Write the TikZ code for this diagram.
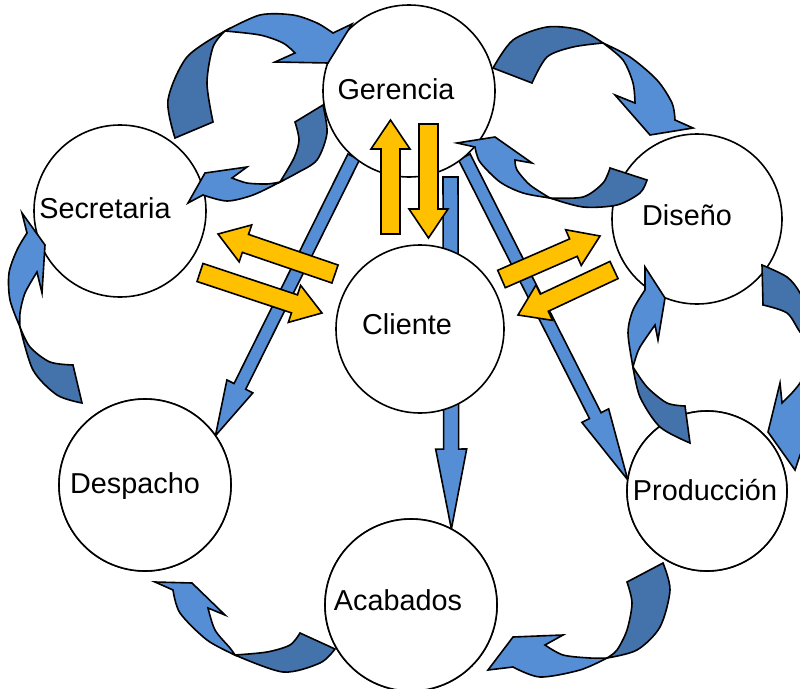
\documentclass[tikz,border=0pt]{standalone}
\usepackage{fontspec}
\setmainfont{Liberation Sans}
\usetikzlibrary{calc}
\definecolor{flowlight}{HTML}{558ED5}
\definecolor{flowdark}{HTML}{4472AA}
\definecolor{swap}{HTML}{FFC000}
\tikzset{
  unit/.style={circle, draw=black, fill=white, line width=1.6pt, inner sep=0pt, outer sep=0pt},
  lbl/.style={font=\fontsize{28.8}{30}\selectfont, anchor=base, inner sep=0pt},
  bluebar/.style={draw=black, fill=flowlight, line width=1.6pt},
  yellowbar/.style={draw=black, fill=swap, line width=1.6pt},
  bendfront/.style={draw=black, fill=flowlight, line width=1.6pt},
  bendback/.style={draw=black, fill=flowdark, line width=1.6pt},
}
% block arrow: style, from, to, half shaft width, half head width, head length
\newcommand\blockarrow[6]{%
  \coordinate (ba-h) at ($(#3)!#6!(#2)$);
  \draw[#1] ($(#2)!#4!90:(#3)$) -- ($(ba-h)!#4!90:(#3)$) -- ($(ba-h)!#5!90:(#3)$)
    -- (#3) -- ($(ba-h)!#5!-90:(#3)$) -- ($(ba-h)!#4!-90:(#3)$) -- ($(#2)!#4!-90:(#3)$) -- cycle;
}
\begin{document}
\begin{tikzpicture}[x=1pt, y=-1pt]
\useasboundingbox (0,0) rectangle (800,688);
\clip (0,0) rectangle (800,688);

% departments
\coordinate (ger-c) at (409,91);
\coordinate (aca-c) at (411,605);

% straight flows from management (behind the circles)
\coordinate (gv) at ($(ger-c)+(41.5,86)$);
\node[unit, minimum size=172pt] (aca) at (aca-c) {};
\node[unit, minimum size=172pt] (des) at (145,485) {};
\node[unit, minimum size=160pt] (pro) at (707,491) {};
\node[unit, minimum size=172pt, draw=none, fill=none] (gerx) at (ger-c) {};
\blockarrow{bluebar}{gerx.230}{des.35}{6.5pt}{14.5pt}{55pt}
\blockarrow{bluebar}{gv}{aca.62}{7.5pt}{15.5pt}{80pt}
\blockarrow{bluebar}{gerx.-50}{pro.172}{6.5pt}{15pt}{72pt}

% circles
\node[unit, minimum size=172pt] (ger) at (ger-c) {};
\node[unit, minimum size=172pt] (sec) at (120,211) {};
\node[unit, minimum size=168pt] (cli) at (420,329) {};
\node[unit, minimum size=170pt] (dis) at (697,219) {};
\node[unit, minimum size=160pt] (pro) at (707,491) {};
\node[unit, minimum size=172pt] (des) at (145,485) {};
\node[unit, minimum size=172pt] (aca) at (aca-c) {};

% labels
\node[lbl] (ger-t) at (396,99.3) {Gerencia};
\node[lbl] (sec-t) at (105,218.3) {Secretaria};
\node[lbl] (cli-t) at (407,334.3) {Cliente};
\node[lbl] (dis-t) at (687,225.3) {Diseño};
\node[lbl] (pro-t) at (705,500.3) {Producción};
\node[lbl] (des-t) at (135,493.3) {Despacho};
\node[lbl] (aca-t) at (398,610.3) {Acabados};

% two-way exchanges with the client
\coordinate (yu-a) at (390.5,234);  \coordinate (yu-b) at (390.5,120);
\coordinate (yd-a) at (428.5,124);  \coordinate (yd-b) at (428.5,238);
\coordinate (yl1-a) at (335,274);   \coordinate (yl1-b) at (218,234);
\coordinate (yl2-a) at (200,272.5); \coordinate (yl2-b) at (322,313);
\coordinate (yr1-a) at (501.5,279); \coordinate (yr1-b) at (600,236);
\coordinate (yr2-a) at (614,270);   \coordinate (yr2-b) at (518,315);
\blockarrow{yellowbar}{yu-a}{yu-b}{9.5pt}{19.5pt}{29pt}
\blockarrow{yellowbar}{yd-a}{yd-b}{9.5pt}{19.5pt}{29pt}
\blockarrow{yellowbar}{yl1-a}{yl1-b}{9.5pt}{19.5pt}{29pt}
\blockarrow{yellowbar}{yl2-a}{yl2-b}{9.5pt}{19.5pt}{29pt}
\blockarrow{yellowbar}{yr1-a}{yr1-b}{9.5pt}{19.5pt}{29pt}
\blockarrow{yellowbar}{yr2-a}{yr2-b}{9.5pt}{19.5pt}{29pt}

% curved flows around the ring
% Secretaria -> Gerencia
\draw[bendback] plot[smooth] coordinates {(225,31) (187,57) (168,100) (175,138)}
  -- (213,122) -- plot[smooth] coordinates {(213,122) (207,83) (213,47) (225,31)} -- cycle;
\draw[bendfront] plot[smooth] coordinates {(225,31) (260,15) (293,15) (317,23) (333,33)}
  -- (352,24) -- (328,63) -- (275,62) -- (295,53)
  -- plot[smooth] coordinates {(295,53) (283,43) (260,35) (225,31)} -- cycle;
% Gerencia -> Secretaria
\draw[bendback] plot[smooth] coordinates {(280,182) (297,173) (317,160) (327,133) (323,105)}
  -- (295,122) -- plot[smooth] coordinates {(295,122) (299,140) (294,158) (280,182)} -- cycle;
\draw[bendfront] plot[smooth] coordinates {(280,182) (253,195) (227,201) (203,195)}
  -- (188,203) -- (205,173) -- (247,167) -- (232,178)
  -- plot[smooth] coordinates {(232,178) (247,183) (267,184) (280,182)} -- cycle;
% Gerencia -> Diseño
\draw[bendback] plot[smooth] coordinates {(603,43) (580,30) (547,27) (513,40) (493,68)}
  -- (532,83) -- plot[smooth] coordinates {(532,83) (547,57) (573,47) (603,43)} -- cycle;
\draw[bendfront] plot[smooth] coordinates {(603,43) (630,57) (657,80) (672,103) (675,120)}
  -- (693,128) -- (650,135) -- (615,95) -- (635,103)
  -- plot[smooth] coordinates {(635,103) (633,83) (623,60) (603,43)} -- cycle;
% Diseño -> Gerencia
\draw[bendback] plot[smooth] coordinates {(550,198) (583,207) (617,205) (640,193) (647,180)}
  -- (610,168) -- plot[smooth] coordinates {(610,168) (603,183) (583,197) (550,198)} -- cycle;
\draw[bendfront] plot[smooth] coordinates {(550,198) (523,193) (500,182) (480,162) (475,147)}
  -- (457,143) -- (495,137) -- (532,163) -- (515,160)
  -- plot[smooth] coordinates {(515,160) (517,170) (530,185) (550,198)} -- cycle;
% Despacho -> Secretaria
\draw[bendback] plot[smooth] coordinates {(20,327) (33,370) (57,395) (82,403)}
  -- (73,365) -- plot[smooth] coordinates {(73,365) (50,362) (30,347) (20,327)} -- cycle;
\draw[bendfront] plot[smooth] coordinates {(20,327) (10,300) (9,273) (17,250) (27,233)}
  -- (22,213) -- (45,245) -- (42,293) -- (37,272)
  -- plot[smooth] coordinates {(37,272) (25,293) (20,313) (20,327)} -- cycle;
% Producción -> Diseño
\draw[bendback] plot[smooth] coordinates {(633,367) (640,397) (660,427) (690,443)}
  -- (685,406) -- plot[smooth] coordinates {(685,406) (667,403) (647,387) (633,367)} -- cycle;
\draw[bendfront] plot[smooth] coordinates {(633,367) (628,333) (633,310) (645,290)}
  -- (645,267) -- (665,298) -- (658,340) -- (655,325)
  -- plot[smooth] coordinates {(655,325) (640,347) (635,360) (633,367)} -- cycle;
% Diseño -> Producción
\draw[bendback] plot[smooth] coordinates {(815,350) (810,318) (800,293) (787,277) (762,265)}
  -- (763,305) -- plot[smooth] coordinates {(763,305) (787,313) (800,332) (815,350)} -- cycle;
\draw[bendfront] plot[smooth] coordinates {(815,350) (818,390) (812,430) (800,455)}
  -- (795,470) -- (768,432) -- (780,383) -- (782,403)
  -- plot[smooth] coordinates {(782,403) (800,383) (815,350)} -- cycle;
% Acabados -> Despacho
\draw[bendback] plot[smooth] coordinates {(235,655) (283,672) (320,663) (335,649)}
  -- (300,633) -- plot[smooth] coordinates {(300,633) (290,645) (267,652) (235,655)} -- cycle;
\draw[bendfront] plot[smooth] coordinates {(235,655) (207,640) (180,613) (173,590)}
  -- (155,582) -- (192,583) -- (225,615) -- (208,608)
  -- plot[smooth] coordinates {(208,608) (215,630) (230,648) (235,655)} -- cycle;
% Producción -> Acabados
\draw[bendback] plot[smooth] coordinates {(607,658) (637,650) (660,627) (670,590) (663,563)}
  -- (627,582) -- plot[smooth] coordinates {(627,582) (632,603) (627,630) (617,650) (607,658)} -- cycle;
\draw[bendfront] plot[smooth] coordinates {(607,658) (580,670) (540,677) (513,667)}
  -- (488,670) -- (513,637) -- (563,635) -- (545,645)
  -- plot[smooth] coordinates {(545,645) (563,655) (590,658) (607,658)} -- cycle;
\end{tikzpicture}
\end{document}
